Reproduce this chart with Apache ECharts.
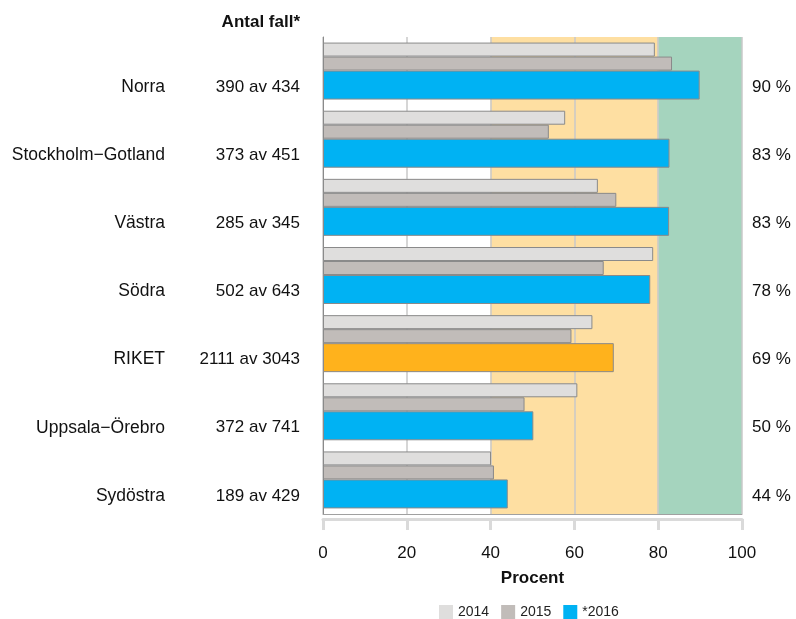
<!DOCTYPE html>
<html>
<head>
<meta charset="utf-8">
<script src="https://cdn.jsdelivr.net/npm/echarts@6/dist/echarts.min.js"></script>
<style>
  html, body { margin: 0; padding: 0; background: #ffffff; }
  #chart { width: 796px; height: 619px; }
</style>
</head>
<body>
<div id="chart"></div>
<script>
// Regions, case counts and yearly shares (percent)
const regions = ['Norra', 'Stockholm\u2212Gotland', 'Västra', 'Södra', 'RIKET', 'Uppsala\u2212Örebro', 'Sydöstra'];
const caseCounts = ['390 av 434', '373 av 451', '285 av 345', '502 av 643', '2111 av 3043', '372 av 741', '189 av 429'];
const values2014 = [79.2, 57.8, 65.6, 78.8, 64.3, 60.7, 40.1];
const values2015 = [83.3, 53.9, 70.0, 67.0, 59.3, 48.1, 40.8];
const values2016 = [89.9, 82.7, 82.6, 78.1, 69.4, 50.2, 44.1];
const seriesNames = ['2014', '2015', '*2016'];
const nationalRow = 'RIKET';

const FONT = '"Liberation Sans", Arial, Helvetica, sans-serif';
const COLORS = { y2014: '#dfdedd', y2015: '#c1bcb9', y2016: '#00b2f3', national: '#ffb21c' };
const BAR_BORDER = { borderColor: '#8a8a8a', borderWidth: 1 };

const chart = echarts.init(document.getElementById('chart'), null, { renderer: 'canvas' });

// push row labels down so they sit beside the 2016 bar
const labelOffset = [32, 0, 0, 0];

chart.setOption({
  animation: false,
  textStyle: { fontFamily: FONT },
  grid: { left: 323, right: 54, top: 37, bottom: 105, containLabel: false },
  legend: {
    data: seriesNames,
    left: 434,
    top: 600,
    itemWidth: 14,
    itemHeight: 14,
    itemGap: 12,
    icon: 'rect',
    itemStyle: { borderWidth: 0 },
    textStyle: { fontFamily: FONT, fontSize: 14, color: '#222' }
  },
  graphic: [{
    type: 'text',
    x: 300,
    y: 22,
    style: {
      text: 'Antal fall*',
      align: 'right',
      verticalAlign: 'middle',
      font: 'bold 17px ' + FONT,
      fill: '#111'
    }
  }],
  xAxis: [{
    type: 'value',
    min: 0,
    max: 100,
    interval: 20,
    offset: 5,
    z: 2,
    name: 'Procent',
    nameLocation: 'middle',
    nameGap: 51,
    nameTextStyle: { fontFamily: FONT, fontSize: 17, fontWeight: 'bold', color: '#111' },
    axisLine: { show: true, lineStyle: { color: '#dadada', width: 3 } },
    axisTick: { show: true, length: 11, lineStyle: { color: '#dadada', width: 3 } },
    axisLabel: { fontSize: 17, color: '#111', margin: 26, fontFamily: FONT },
    splitLine: { show: true, lineStyle: { color: '#c8c8c8', width: 1.5 } }
  }, {
    type: 'value',
    min: 0,
    max: 100,
    position: 'bottom',
    z: 2,
    axisLine: { show: true, lineStyle: { color: '#a0a0a0', width: 1 } },
    axisTick: { show: false },
    axisLabel: { show: false },
    splitLine: { show: false }
  }],
  yAxis: [{
    type: 'category',
    data: regions,
    inverse: true,
    z: 2,
    axisLine: { show: true, lineStyle: { color: '#8a8a8a', width: 1 } },
    axisTick: { show: false },
    axisLabel: {
      interval: 0,
      margin: 23,
      padding: labelOffset,
      formatter: (v, i) => '{n|' + v + '}{c|' + caseCounts[i] + '}',
      rich: {
        n: { width: 162, align: 'right', fontSize: 17.5, color: '#111', fontFamily: FONT },
        c: { width: 135, align: 'right', fontSize: 17, color: '#111', fontFamily: FONT }
      }
    }
  }, {
    type: 'category',
    data: regions,
    inverse: true,
    position: 'right',
    axisLine: { show: false },
    axisTick: { show: false },
    axisLabel: {
      interval: 0,
      margin: 10,
      padding: labelOffset,
      formatter: (v, i) => '{p|' + Math.round(values2016[i]) + ' %}',
      rich: {
        p: { fontSize: 17, color: '#111', fontFamily: FONT }
      }
    }
  }],
  series: [{
    name: seriesNames[0],
    type: 'bar',
    z: 3,
    barWidth: 14,
    barGap: '0%',
    barCategoryGap: '0%',
    itemStyle: Object.assign({ color: COLORS.y2014 }, BAR_BORDER),
    data: values2014,
    markArea: {
      silent: true,
      z: 1,
      itemStyle: { borderWidth: 0 },
      label: { show: false },
      data: [
        [{ xAxis: 40, itemStyle: { color: '#fedfa2' } }, { xAxis: 80 }],
        [{ xAxis: 80, itemStyle: { color: '#a5d4be' } }, { xAxis: 100 }]
      ]
    }
  }, {
    name: seriesNames[1],
    type: 'bar',
    z: 3,
    barWidth: 14,
    barGap: '0%',
    itemStyle: Object.assign({ color: COLORS.y2015 }, BAR_BORDER),
    data: values2015
  }, {
    name: seriesNames[2],
    type: 'bar',
    z: 3,
    barWidth: 29,
    barGap: '0%',
    itemStyle: Object.assign({ color: COLORS.y2016 }, BAR_BORDER),
    data: values2016.map((v, i) => regions[i] === nationalRow
      ? { value: v, itemStyle: { color: COLORS.national } }
      : v)
  }]
});
</script>
</body>
</html>
